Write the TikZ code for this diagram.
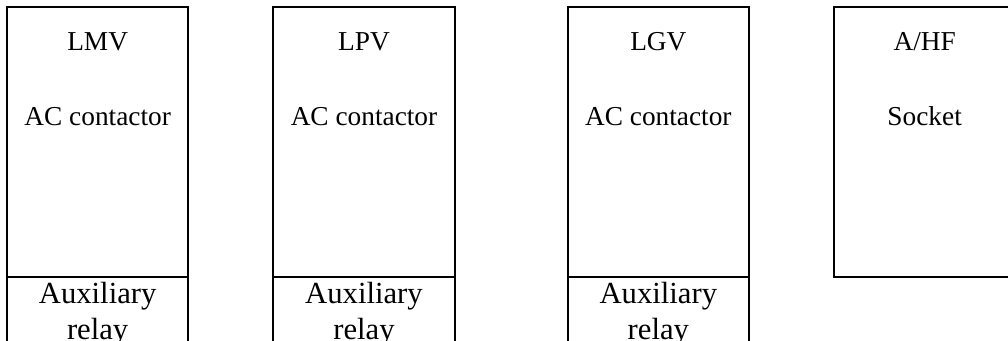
\documentclass[tikz,border=0pt]{standalone}
\usepackage{fontspec}
\setmainfont{Liberation Serif}
\usetikzlibrary{positioning}
\tikzset{
  unit/.style={draw=black, line width=1.5pt, minimum width=136pt, minimum height=202.5pt, inner sep=0pt, outer sep=0pt},
  relay/.style={draw=black, line width=1.5pt, minimum width=136pt, minimum height=70pt, inner sep=0pt, outer sep=0pt},
  tag/.style={font=\fontsize{20.5}{24}\selectfont, inner sep=0pt, anchor=base},
  relaytext/.style={font=\fontsize{23}{27}\selectfont, align=center, inner sep=0pt, anchor=base}
}

\begin{document}
\begin{tikzpicture}[node distance=63.75pt]
  \useasboundingbox (0,0) rectangle (756pt,-255pt);
  \clip (0,0) rectangle (756pt,-255pt);

  % contactor units
  \node[unit, anchor=north west] (lmv) at (5.25pt,-5.6pt) {};
  \node[unit, right=of lmv] (lpv) {};
  \node[unit, right=84.75pt of lpv] (lgv) {};
  \node[unit, right=of lgv] (ahf) {};

  % auxiliary relays under the contactors
  \node[relay, below=0pt of lmv] (lmvrel) {};
  \node[relay, below=0pt of lpv] (lpvrel) {};
  \node[relay, below=0pt of lgv] (lgvrel) {};

  \node[tag] (lmvname) at ([yshift=-32.25pt]lmv.north) {LMV};
  \node[tag] (lmvtype) at ([yshift=-88.5pt]lmv.north) {AC contactor};
  \node[tag] (lpvname) at ([yshift=-32.25pt]lpv.north) {LPV};
  \node[tag] (lpvtype) at ([yshift=-88.5pt]lpv.north) {AC contactor};
  \node[tag] (lgvname) at ([yshift=-32.25pt]lgv.north) {LGV};
  \node[tag] (lgvtype) at ([yshift=-88.5pt]lgv.north) {AC contactor};
  \node[tag] (ahfname) at ([yshift=-32.25pt]ahf.north) {A/HF};
  \node[tag] (ahftype) at ([yshift=-88.5pt]ahf.north) {Socket};

  \node[relaytext] (lmvreltext) at ([yshift=-46.5pt]lmvrel.north) {Auxiliary\\relay};
  \node[relaytext] (lpvreltext) at ([yshift=-46.5pt]lpvrel.north) {Auxiliary\\relay};
  \node[relaytext] (lgvreltext) at ([yshift=-46.5pt]lgvrel.north) {Auxiliary\\relay};
\end{tikzpicture}
\end{document}
